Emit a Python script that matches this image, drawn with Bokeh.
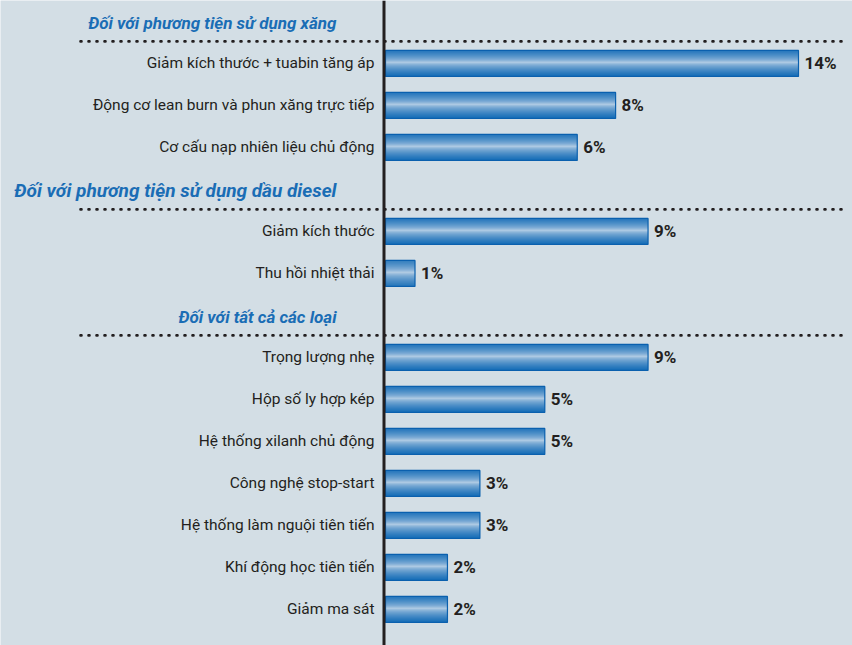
from bokeh.plotting import figure
from bokeh.models import Range1d, Span, ColumnDataSource
from bokeh.core.properties import value
from bokeh.embed import file_html
from bokeh.resources import INLINE

# ---------------- data ----------------
group_titles = [
    "Đối với phương tiện sử dụng xăng",
    "Đối với phương tiện sử dụng dầu diesel",
    "Đối với tất cả các loại",
]
group_sizes = [3, 2, 7]
categories = [
    "Giảm kích thước + tuabin tăng áp",
    "Động cơ lean burn và phun xăng trực tiếp",
    "Cơ cấu nạp nhiên liệu chủ động",
    "Giảm kích thước",
    "Thu hồi nhiệt thải",
    "Trọng lượng nhẹ",
    "Hộp số ly hợp kép",
    "Hệ thống xilanh chủ động",
    "Công nghệ stop-start",
    "Hệ thống làm nguội tiên tiến",
    "Khí động học tiên tiến",
    "Giảm ma sát",
]
values = [14.0, 7.8, 6.5, 8.9, 1.0, 8.9, 5.4, 5.4, 3.2, 3.2, 2.1, 2.1]
value_labels = ["14%", "8%", "6%", "9%", "1%", "9%", "5%", "5%", "3%", "3%", "2%", "2%"]

# ---------------- layout ----------------
W, H = 852, 645
PX_PER = 29.5      # pixels per percent
X0PX = 385         # pixel of 0%
ROW0, STEP = 20.9, 42.0
BH = 26            # bar height in px
FONT = "Roboto"
HEAD_SIZES = ["17px", "19px", "17px"]

def px_to_x(px):
    return (px - X0PX) / PX_PER

p = figure(width=W, height=H, output_backend="svg", toolbar_location=None,
           x_range=Range1d(px_to_x(0), px_to_x(W)), y_range=Range1d(H, 0),
           x_axis_location=None, y_axis_location=None, min_border=0,
           background_fill_color="#d3dee5", border_fill_color="#d3dee5")
p.outline_line_color = None
p.xgrid.visible = False
p.ygrid.visible = False

# slot positions
row_y, head_y, line_y = [], [], []
slot = 0
for g, n in enumerate(group_sizes):
    hy = ROW0 + STEP * slot
    head_y.append(hy + 1.5)
    line_y.append(hy + STEP / 2 - 1)
    slot += 1
    for _ in range(n):
        row_y.append(ROW0 + STEP * slot)
        slot += 1

# dotted separators
p.segment(x0=[px_to_x(80)] * 3, x1=[px_to_x(843)] * 3, y0=line_y, y1=line_y,
          line_color="#231f20", line_width=2.6, line_dash="1 7", line_cap="round")

# headers
hsrc = ColumnDataSource(dict(x=[px_to_x(336)] * 3, y=head_y, t=group_titles, s=HEAD_SIZES))
p.text(x="x", y="y", text="t", source=hsrc, text_align="right",
       text_baseline="middle", text_font=value(FONT), text_font_size="s",
       text_font_style="bold italic", text_color="#1a6db5")

# gradient bars built from thin strips
dark = (0, 96, 178)
light = (188, 210, 232)
N = BH
for i in range(N):
    f = (i + 0.5) / N
    t = min(1.0, abs(f - 0.47) / 0.5)
    m = t ** 0.6
    c = tuple(int(round(light[k] + (dark[k] - light[k]) * m)) for k in range(3))
    col = "#%02x%02x%02x" % c
    ys = [y - BH / 2 + i + 0.5 for y in row_y]
    p.hbar(y=ys, left=0, right=values, height=1.08, fill_color=col, line_color=None)

# bar outline
p.hbar(y=row_y, left=0, right=values, height=BH, fill_alpha=0,
       line_color="#0a60ae", line_width=1.2)

# value labels
src = ColumnDataSource(dict(y=row_y, x=values, t=value_labels, c=categories))
p.text(x="x", y="y", text="t", source=src, x_offset=6, text_align="left",
       text_baseline="middle", text_font=value(FONT), text_font_size="17px",
       text_font_style="bold", text_color="#231f20")

# category labels
p.text(x=0, y="y", text="c", source=src, x_offset=-11, text_align="right",
       text_baseline="middle", text_font=value(FONT), text_font_size="15.5px",
       text_color="#231f20")

# vertical axis line
p.add_layout(Span(location=px_to_x(383.5), dimension="height",
                  line_color="#231f20", line_width=3))

open("out.html", "w").write(file_html(p, INLINE))
